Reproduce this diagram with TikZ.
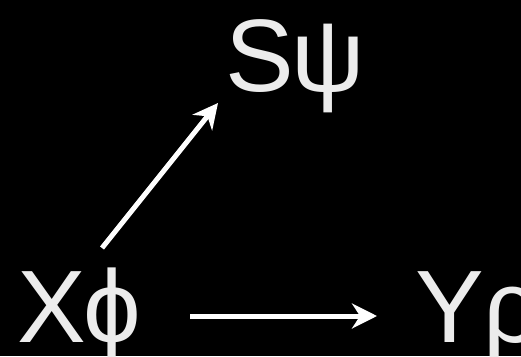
\documentclass[tikz,border=0pt]{standalone}
\usepackage{fontspec}
\setmainfont{Liberation Sans}
\usetikzlibrary{arrows.meta,calc,positioning}
\definecolor{LabelGray}{RGB}{236,236,236}

\begin{document}
\begin{tikzpicture}[x=1pt, y=1pt,
    var/.style={inner sep=0pt, anchor=base west, text=LabelGray,
      font=\fontsize{103}{110}\selectfont},
    arr/.style={white, line width=5pt,
      -{Stealth[length=25pt, width=25pt, inset=8pt]}}]
  % Background and frame
  \fill[black] (0,0) rectangle (521,356);
  \useasboundingbox (0,0) rectangle (521,356);
  \clip (0,0) rectangle (521,356);

  % Variables
  \node[var] (X) at (17,14) {X\kern-2pt ϕ};
  \node[var] (S) at (225,264) {S\kern-2pt ψ};
  \node[var] (Y) at (415,14) {Yρ};

  % Arrows
  \draw[arr] ($(X.base west)+(85,94)$) -- ($(S.base west)+(-7,-11)$);
  \draw[arr] ($(X.base west)+(173,26)$) -- ($(Y.base west)+(-38,26)$);
\end{tikzpicture}
\end{document}
